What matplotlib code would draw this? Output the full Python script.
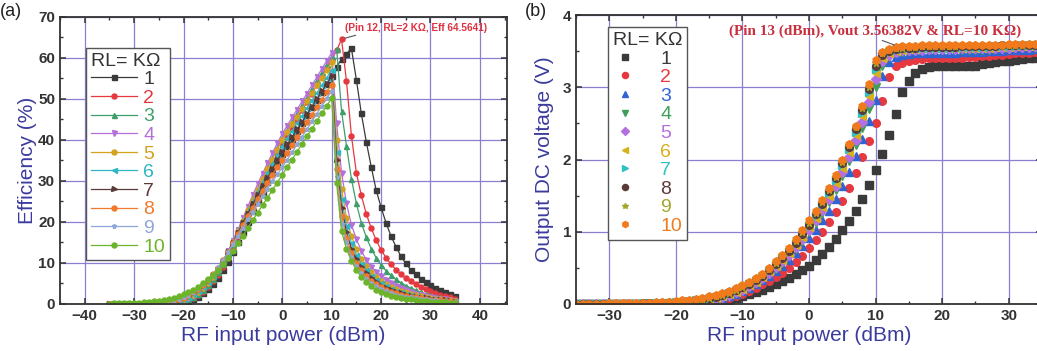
import matplotlib
matplotlib.use('Agg')
import matplotlib.pyplot as plt
import numpy as np

plt.rcParams['font.family'] = ['Liberation Sans', 'DejaVu Sans']

# ---------------- data ----------------
pin = list(range(-35, 36))          # RF input power (dBm), 1 dBm step
rl_labels = ['1', '2', '3', '4', '5', '6', '7', '8', '9', '10']

# (a) efficiency (%) for RL = 1..10 kOhm
eff_1 = [0, 0, 0, 0, 0, 0, 0, 0, 0, 0.02, 0.03, 0.05, 0.08, 0.14, 0.25,
         0.45, 0.75, 1.2, 1.8, 2.6, 3.6, 4.9, 6.4, 8.2, 10.3, 12.6, 15.1, 17.6, 20.1, 22.6,
         25.0, 27.4, 29.8, 32.1, 34.3, 36.5, 38.4, 40.3, 42.2, 44.1, 46.0, 47.9, 49.8, 51.7, 53.6,
         55.5, 57.8, 59.7, 61.0, 62.3, 54.7, 46.5, 39.6, 33.5, 27.8, 23.6, 19.8, 16.6, 14.0, 11.7,
         9.9, 8.4, 7.2, 6.2, 5.4, 4.7, 4.0, 3.4, 2.9, 2.4, 1.9]
eff_2 = [0, 0, 0, 0, 0, 0, 0, 0.02, 0.03, 0.04, 0.06, 0.09, 0.14, 0.22, 0.36,
         0.6, 0.95, 1.45, 2.1, 3.0, 4.1, 5.5, 7.1, 9.0, 11.2, 13.7, 16.3, 19.0, 21.6, 24.2,
         26.8, 29.3, 31.8, 34.2, 36.6, 39.0, 41.0, 43.1, 45.1, 47.2, 49.2, 51.3, 53.4, 55.4, 57.5,
         59.5, 61.8, 64.5641, 54.3, 41.0, 32.0, 26.5, 22.0, 18.5, 15.6, 13.2, 11.3, 9.7, 8.4, 7.3,
         6.3, 5.5, 4.8, 4.2, 3.6, 3.1, 2.7, 2.3, 1.9, 1.6, 1.3]
eff_3 = [0, 0, 0, 0, 0, 0, 0.02, 0.03, 0.04, 0.06, 0.09, 0.13, 0.2, 0.3, 0.5,
         0.8, 1.2, 1.75, 2.5, 3.5, 4.7, 6.1, 7.8, 9.8, 12.1, 14.7, 17.4, 20.1, 22.8, 25.5,
         28.1, 30.7, 33.2, 35.7, 38.1, 40.5, 42.5, 44.5, 46.5, 48.5, 50.5, 52.5, 54.5, 56.5, 58.5,
         60.4, 62.2, 47.0, 38.5, 30.5, 24.5, 19.8, 16.3, 13.5, 11.3, 9.5, 8.1, 7.0, 6.0, 5.2,
         4.5, 3.9, 3.4, 2.9, 2.5, 2.2, 1.9, 1.6, 1.3, 1.1, 0.9]
eff_4 = [0, 0, 0, 0, 0, 0.02, 0.03, 0.04, 0.06, 0.08, 0.11, 0.16, 0.24, 0.36, 0.6,
         0.95, 1.4, 2.0, 2.8, 3.8, 5.0, 6.5, 8.3, 10.4, 12.8, 15.4, 18.1, 20.9, 23.7, 26.5,
         29.2, 31.8, 34.3, 36.8, 39.2, 41.5, 43.5, 45.5, 47.4, 49.4, 51.3, 53.3, 55.3, 57.3, 59.3,
         61.2, 44.0, 32.0, 24.5, 19.3, 15.8, 13.0, 10.8, 9.1, 7.8, 6.7, 5.8, 5.0, 4.3, 3.8,
         3.3, 2.9, 2.5, 2.2, 1.9, 1.7, 1.5, 1.3, 1.1, 0.95, 0.8]
eff_5 = [0, 0, 0, 0, 0.02, 0.03, 0.04, 0.06, 0.08, 0.11, 0.15, 0.21, 0.3, 0.45, 0.7,
         1.1, 1.6, 2.2, 3.0, 4.0, 5.2, 6.6, 8.3, 10.3, 12.6, 15.1, 17.7, 20.3, 22.9, 25.4,
         27.9, 30.4, 32.8, 35.2, 37.6, 40.0, 41.9, 43.8, 45.7, 47.6, 49.5, 51.4, 53.3, 55.2, 57.1,
         59.0, 40.0, 28.0, 21.0, 16.5, 13.5, 11.0, 9.2, 7.8, 6.6, 5.6, 4.8, 4.2, 3.6, 3.2,
         2.8, 2.4, 2.1, 1.9, 1.7, 1.5, 1.3, 1.1, 1.0, 0.85, 0.7]
eff_6 = [0, 0, 0, 0.02, 0.03, 0.04, 0.05, 0.07, 0.1, 0.14, 0.19, 0.27, 0.38, 0.55, 0.8,
         1.25, 1.75, 2.4, 3.2, 4.2, 5.4, 6.8, 8.5, 10.4, 12.6, 15.0, 17.5, 20.0, 22.5, 24.9,
         27.3, 29.6, 31.9, 34.1, 36.3, 38.5, 40.4, 42.2, 44.1, 45.9, 47.8, 49.6, 51.5, 53.3, 55.2,
         57.0, 37.0, 25.5, 19.0, 14.8, 12.0, 9.8, 8.2, 6.9, 5.8, 5.0, 4.3, 3.7, 3.2, 2.8,
         2.5, 2.2, 1.9, 1.7, 1.5, 1.3, 1.15, 1.0, 0.9, 0.75, 0.65]
eff_7 = [0, 0, 0.02, 0.03, 0.04, 0.05, 0.07, 0.09, 0.12, 0.17, 0.23, 0.32, 0.45, 0.65, 0.95,
         1.4, 1.9, 2.6, 3.4, 4.4, 5.6, 7.0, 8.6, 10.5, 12.6, 14.9, 17.3, 19.7, 22.0, 24.3,
         26.5, 28.7, 30.8, 32.9, 35.0, 37.0, 38.9, 40.7, 42.6, 44.4, 46.3, 48.1, 50.0, 51.8, 53.7,
         55.5, 35.0, 23.5, 17.5, 13.5, 11.0, 9.0, 7.5, 6.3, 5.3, 4.5, 3.9, 3.4, 2.9, 2.6,
         2.3, 2.0, 1.75, 1.55, 1.35, 1.2, 1.05, 0.95, 0.85, 0.7, 0.6]
eff_8 = [0, 0.02, 0.03, 0.04, 0.05, 0.07, 0.09, 0.12, 0.16, 0.22, 0.3, 0.41, 0.56, 0.78, 1.1,
         1.55, 2.1, 2.8, 3.6, 4.6, 5.8, 7.2, 8.8, 10.6, 12.6, 14.8, 17.0, 19.2, 21.4, 23.5,
         25.6, 27.6, 29.6, 31.5, 33.3, 35.0, 36.9, 38.7, 40.6, 42.4, 44.3, 46.1, 48.0, 49.8, 51.7,
         53.5, 33.0, 21.5, 16.0, 12.5, 10.0, 8.2, 6.8, 5.7, 4.8, 4.1, 3.5, 3.0, 2.6, 2.3,
         2.0, 1.8, 1.6, 1.4, 1.2, 1.05, 0.95, 0.85, 0.75, 0.65, 0.55]
eff_9 = [0.02, 0.03, 0.04, 0.05, 0.07, 0.09, 0.12, 0.16, 0.21, 0.28, 0.37, 0.49, 0.65, 0.9, 1.25,
         1.75, 2.3, 3.0, 3.8, 4.8, 6.0, 7.4, 9.0, 10.7, 12.6, 14.6, 16.6, 18.6, 20.6, 22.5,
         24.4, 26.3, 28.1, 29.9, 31.6, 33.3, 35.2, 37.0, 38.9, 40.8, 42.6, 44.5, 46.4, 48.3, 50.1,
         52.0, 31.0, 19.5, 15.0, 11.5, 9.2, 7.5, 6.2, 5.1, 4.3, 3.7, 3.1, 2.7, 2.3, 2.0,
         1.8, 1.6, 1.4, 1.2, 1.1, 0.95, 0.85, 0.75, 0.65, 0.55, 0.5]
eff_10 = [0.1, 0.12, 0.15, 0.18, 0.22, 0.27, 0.33, 0.4, 0.5, 0.62, 0.77, 0.95, 1.2, 1.5, 1.9,
          2.4, 2.9, 3.5, 4.2, 5.0, 6.0, 7.1, 8.4, 9.8, 11.3, 12.9, 14.8, 16.6, 18.5, 20.4,
          22.2, 24.1, 25.9, 27.8, 29.6, 31.5, 33.4, 35.2, 37.1, 39.0, 40.9, 42.7, 44.6, 46.5, 48.3,
          50.2, 29.5, 17.7, 13.5, 10.5, 8.3, 6.6, 5.3, 4.3, 3.5, 2.9, 2.4, 2.0, 1.7, 1.45,
          1.25, 1.1, 0.95, 0.8, 0.7, 0.6, 0.5, 0.45, 0.4, 0.35, 0.3]

# (b) output DC voltage (V) for RL = 1..10 kOhm
v_1 = [0, 0, 0, 0, 0, 0, 0, 0, 0, 0, 0, 0, 0, 0, 0,
       0, 0, 0, 0, 0, 0.01, 0.02, 0.04, 0.06, 0.08, 0.11, 0.14, 0.17, 0.2, 0.24,
       0.28, 0.32, 0.36, 0.41, 0.47, 0.53, 0.61, 0.69, 0.79, 0.9, 1.02, 1.15, 1.29, 1.46, 1.65,
       1.85, 2.08, 2.34, 2.63, 2.94, 3.09, 3.2, 3.25, 3.28, 3.3, 3.3, 3.3, 3.3, 3.3, 3.3,
       3.3, 3.32, 3.34, 3.35, 3.36, 3.37, 3.38, 3.39, 3.4, 3.41, 3.42]
v_2 = [0, 0, 0, 0, 0, 0, 0, 0, 0, 0, 0, 0, 0, 0, 0,
       0, 0, 0.01, 0.015, 0.02, 0.03, 0.045, 0.06, 0.08, 0.11, 0.14, 0.18, 0.22, 0.27, 0.32,
       0.37, 0.43, 0.5, 0.58, 0.67, 0.77, 0.88, 1.0, 1.13, 1.27, 1.42, 1.6, 1.81, 2.04, 2.26,
       2.51, 2.81, 3.14, 3.29, 3.34, 3.36, 3.38, 3.39, 3.4, 3.4, 3.41, 3.41, 3.41, 3.41, 3.42,
       3.42, 3.43, 3.44, 3.45, 3.45, 3.46, 3.47, 3.47, 3.48, 3.49, 3.5]
v_3 = [0, 0, 0, 0, 0, 0, 0, 0, 0, 0, 0, 0, 0, 0, 0,
       0, 0.01, 0.015, 0.02, 0.03, 0.045, 0.06, 0.08, 0.11, 0.14, 0.18, 0.22, 0.27, 0.33, 0.39,
       0.46, 0.53, 0.61, 0.7, 0.8, 0.91, 1.03, 1.16, 1.29, 1.45, 1.64, 1.83, 2.05, 2.29, 2.54,
       2.83, 3.15, 3.35, 3.42, 3.45, 3.46, 3.47, 3.48, 3.48, 3.48, 3.48, 3.48, 3.48, 3.49, 3.49,
       3.49, 3.49, 3.5, 3.5, 3.5, 3.51, 3.51, 3.52, 3.52, 3.53, 3.53]
v_4 = [0, 0, 0, 0, 0, 0, 0, 0, 0, 0, 0, 0, 0, 0.005, 0.01,
       0.015, 0.02, 0.025, 0.03, 0.04, 0.055, 0.07, 0.09, 0.12, 0.15, 0.19, 0.24, 0.29, 0.35, 0.42,
       0.49, 0.57, 0.66, 0.76, 0.87, 0.99, 1.12, 1.26, 1.41, 1.58, 1.77, 1.98, 2.2, 2.44, 2.7,
       3.0, 3.3, 3.42, 3.47, 3.49, 3.5, 3.5, 3.51, 3.51, 3.51, 3.51, 3.51, 3.51, 3.52, 3.52,
       3.52, 3.52, 3.52, 3.53, 3.53, 3.53, 3.54, 3.54, 3.54, 3.55, 3.55]
v_5 = [0, 0, 0, 0, 0, 0, 0, 0, 0, 0, 0, 0, 0.005, 0.01, 0.012,
       0.018, 0.024, 0.03, 0.04, 0.05, 0.065, 0.08, 0.1, 0.13, 0.16, 0.2, 0.25, 0.3, 0.36, 0.43,
       0.51, 0.59, 0.68, 0.79, 0.9, 1.03, 1.16, 1.3, 1.46, 1.63, 1.83, 2.04, 2.27, 2.52, 2.8,
       3.11, 3.36, 3.45, 3.49, 3.51, 3.52, 3.52, 3.52, 3.53, 3.53, 3.53, 3.53, 3.53, 3.54, 3.54,
       3.54, 3.54, 3.54, 3.55, 3.55, 3.55, 3.56, 3.56, 3.56, 3.57, 3.57]
v_6 = [0, 0, 0, 0, 0, 0, 0, 0, 0, 0, 0, 0.005, 0.008, 0.012, 0.015,
       0.02, 0.027, 0.034, 0.044, 0.055, 0.07, 0.085, 0.11, 0.14, 0.17, 0.21, 0.26, 0.31, 0.37, 0.45,
       0.53, 0.61, 0.7, 0.81, 0.93, 1.06, 1.19, 1.34, 1.5, 1.68, 1.88, 2.1, 2.34, 2.6, 2.88,
       3.2, 3.4, 3.47, 3.5, 3.52, 3.53, 3.53, 3.54, 3.54, 3.54, 3.54, 3.54, 3.54, 3.55, 3.55,
       3.55, 3.55, 3.55, 3.56, 3.56, 3.56, 3.57, 3.57, 3.57, 3.58, 3.58]
v_7 = [0, 0, 0, 0, 0, 0, 0, 0, 0, 0, 0.005, 0.007, 0.01, 0.013, 0.017,
       0.022, 0.03, 0.038, 0.048, 0.06, 0.075, 0.092, 0.115, 0.145, 0.18, 0.22, 0.27, 0.32, 0.38, 0.46,
       0.54, 0.63, 0.72, 0.83, 0.95, 1.08, 1.22, 1.37, 1.53, 1.71, 1.92, 2.14, 2.38, 2.65, 2.94,
       3.25, 3.43, 3.49, 3.52, 3.53, 3.54, 3.54, 3.55, 3.55, 3.55, 3.55, 3.55, 3.55, 3.56, 3.56,
       3.56, 3.56, 3.56, 3.57, 3.57, 3.57, 3.57, 3.58, 3.58, 3.58, 3.59]
v_8 = [0, 0, 0, 0, 0, 0, 0, 0, 0, 0.005, 0.007, 0.009, 0.012, 0.015, 0.019,
       0.025, 0.032, 0.04, 0.051, 0.064, 0.08, 0.098, 0.12, 0.15, 0.19, 0.23, 0.28, 0.33, 0.39, 0.47,
       0.55, 0.64, 0.74, 0.85, 0.97, 1.1, 1.24, 1.39, 1.56, 1.74, 1.95, 2.17, 2.42, 2.69, 2.98,
       3.3, 3.45, 3.5, 3.53, 3.54, 3.55, 3.55, 3.56, 3.56, 3.56, 3.56, 3.56, 3.56, 3.57, 3.57,
       3.57, 3.57, 3.57, 3.57, 3.58, 3.58, 3.58, 3.58, 3.59, 3.59, 3.59]
v_9 = [0, 0, 0, 0, 0, 0, 0, 0, 0.005, 0.006, 0.008, 0.01, 0.013, 0.017, 0.021,
       0.027, 0.035, 0.044, 0.055, 0.068, 0.085, 0.104, 0.127, 0.155, 0.195, 0.24, 0.29, 0.34, 0.4, 0.48,
       0.57, 0.66, 0.76, 0.87, 0.99, 1.12, 1.26, 1.41, 1.58, 1.76, 1.97, 2.2, 2.45, 2.72, 3.01,
       3.34, 3.47, 3.51, 3.54, 3.55, 3.56, 3.56, 3.57, 3.57, 3.57, 3.57, 3.57, 3.57, 3.58, 3.58,
       3.58, 3.58, 3.58, 3.58, 3.59, 3.59, 3.59, 3.59, 3.6, 3.6, 3.6]
v_10 = [0.005, 0.005, 0.005, 0.006, 0.006, 0.007, 0.008, 0.009, 0.01, 0.012, 0.014, 0.017, 0.021, 0.026, 0.032,
        0.04, 0.05, 0.06, 0.072, 0.088, 0.105, 0.125, 0.15, 0.18, 0.22, 0.26, 0.31, 0.36, 0.42, 0.5,
        0.59, 0.68, 0.78, 0.9, 1.03, 1.16, 1.29, 1.44, 1.61, 1.79, 2.0, 2.22, 2.47, 2.74, 3.04,
        3.38, 3.49, 3.53, 3.56382, 3.57, 3.57, 3.57, 3.58, 3.58, 3.58, 3.58, 3.58, 3.58, 3.58, 3.59,
        3.59, 3.59, 3.59, 3.59, 3.59, 3.6, 3.6, 3.6, 3.6, 3.6, 3.61]

eff = [eff_1, eff_2, eff_3, eff_4, eff_5, eff_6, eff_7, eff_8, eff_9, eff_10]
vout = [v_1, v_2, v_3, v_4, v_5, v_6, v_7, v_8, v_9, v_10]

# ---------------- styles ----------------
col_a = ['#3a3a3a', '#e5383f', '#3f9e6a', '#b46fd9', '#d3a21e',
         '#2fb5c4', '#5b3a3a', '#f07a2c', '#8fa6d6', '#6cb52a']
mk_a = ['s', 'o', '^', 'v', 'o', '<', '>', 'o', '*', 'o']
col_b = ['#3a3a3a', '#e5383f', '#3163d3', '#3f9e5a', '#b470e0',
         '#d7b01a', '#2fc1c4', '#5b3a3a', '#a3a62a', '#f07a1c']
mk_b = ['s', 'o', '^', 'v', 'D', '<', '>', 'o', '*', 'h']

grid_col = '#8a7fd0'
lab_col = '#3b3b9e'
tick_col = '#333333'

fig = plt.figure(figsize=(10.37, 3.51), dpi=100)
ax1 = fig.add_axes([0.0579, 0.134, 0.431, 0.818])
ax2 = fig.add_axes([0.5554, 0.134, 0.4494, 0.823])


def style_axes(ax):
    ax.grid(True, color=grid_col, lw=0.9)
    ax.set_axisbelow(True)
    for s in ax.spines.values():
        s.set_color('#333333')
        s.set_linewidth(1.3)
    ax.tick_params(which='both', direction='in', top=True, right=True,
                   colors=tick_col, labelsize=11)
    ax.tick_params(which='major', length=4, width=1.1)
    ax.tick_params(which='minor', length=2.5, width=1)
    for t in ax.get_xticklabels() + ax.get_yticklabels():
        t.set_fontweight('bold')


# ---------------- (a) efficiency ----------------
for i in range(10):
    ax1.plot(pin, eff[i], color=col_a[i], marker=mk_a[i], ms=3.6, lw=0.9,
             label=rl_labels[i])

ax1.set_xlim(-45, 45.5)
ax1.set_ylim(0, 70)
ax1.set_xticks(np.arange(-40, 41, 10))
ax1.set_yticks(np.arange(0, 71, 10))
ax1.set_xticks(np.arange(-45, 46, 5), minor=True)
ax1.set_yticks(np.arange(0, 71, 5), minor=True)
style_axes(ax1)
ax1.set_xlabel('RF input power (dBm)', fontsize=15, color=lab_col, labelpad=2)
ax1.set_ylabel('Efficiency (%)', fontsize=15, color=lab_col, labelpad=1)

leg1 = ax1.legend(title='RL= K\u03a9', loc='upper left', bbox_to_anchor=(0.058, 0.892),
                  fontsize=14, title_fontsize=14, frameon=True, fancybox=False,
                  edgecolor='#555555', framealpha=1, handlelength=2.4,
                  labelspacing=0.05, handletextpad=0.3, borderpad=0.25,
                  borderaxespad=0)
leg1._legend_box.align = 'left'
leg1.get_title().set_color('#333333')
for i, t in enumerate(leg1.get_texts()):
    t.set_color(col_a[i])

ax1.annotate('(Pin 12, RL=2 K\u03a9, Eff 64.5641)', xy=(12.4, 64.7), xytext=(27, 67.4),
             fontsize=7.2, fontweight='bold', color='#e0303f', ha='center', va='center',
             arrowprops=dict(arrowstyle='-', color='#555555', lw=0.8,
                             shrinkA=0, shrinkB=1, relpos=(0.15, 0)))

fig.text(0.0, 0.955, '(a)', fontsize=13, color='#222222')

# ---------------- (b) output DC voltage ----------------
for i in range(10):
    ax2.plot(pin, vout[i], color=col_b[i], marker=mk_b[i], ms=5.5, lw=0,
             label=rl_labels[i])

ax2.set_xlim(-35, 35)
ax2.set_ylim(0, 4)
ax2.set_xticks(np.arange(-30, 31, 10))
ax2.set_yticks(np.arange(0, 5, 1))
ax2.set_xticks(np.arange(-35, 36, 5), minor=True)
ax2.set_yticks(np.arange(0, 4.1, 0.5), minor=True)
style_axes(ax2)
ax2.set_xlabel('RF input power (dBm)', fontsize=15, color=lab_col, labelpad=2)
ax2.set_ylabel('Output DC voltage (V)', fontsize=15, color=lab_col, labelpad=6)

leg2 = ax2.legend(title='RL= K\u03a9', loc='upper left', bbox_to_anchor=(0.069, 0.958),
                  fontsize=14, title_fontsize=14, frameon=True, fancybox=False,
                  edgecolor='#555555', framealpha=1, handlelength=1.2, markerscale=0.8,
                  labelspacing=0.05, handletextpad=1.2, borderpad=0.25,
                  borderaxespad=0)
leg2.get_title().set_color('#333333')
for i, t in enumerate(leg2.get_texts()):
    t.set_color(col_b[i])

ax2.annotate('(Pin 13 (dBm), Vout 3.56382V & RL=10 K\u03a9)', xy=(13, 3.58), xytext=(9.9, 3.78),
             fontsize=11, fontweight='bold', color='#c8303f', ha='center', va='center',
             family=['Liberation Serif', 'DejaVu Serif'],
             arrowprops=dict(arrowstyle='-', color='#555555', lw=0.8,
                             shrinkA=0, shrinkB=1, relpos=(0.5, 0)))

fig.text(0.506, 0.955, '(b)', fontsize=13, color='#222222')

fig.savefig('out.png', dpi=100)
